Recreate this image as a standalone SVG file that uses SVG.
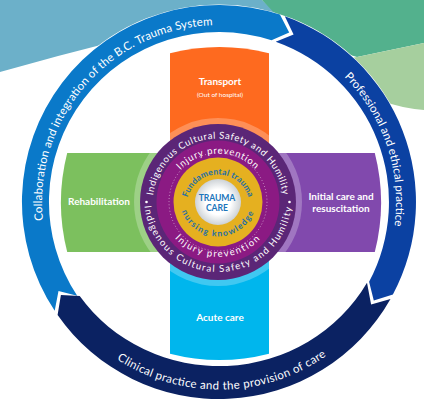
<svg xmlns="http://www.w3.org/2000/svg" width="424" height="401" viewBox="0 0 424 401">
<defs>
<style>
.rt{font-family:Lato,"Noto Sans",sans-serif;font-size:11.5px;fill:#fff;}
.arm{font-family:Lato,"Noto Sans",sans-serif;font-weight:bold;font-size:10px;fill:#fff;text-anchor:middle;}
.ind{font-family:Lato,"Noto Sans",sans-serif;font-size:9.5px;fill:#fff;}
.inj{font-family:Lato,"Noto Sans",sans-serif;font-size:9.5px;fill:#fff;}
.fun{font-family:Lato,"Noto Sans",sans-serif;font-size:8.5px;font-weight:bold;fill:#1f6fa6;}
.tc{font-family:Lato,"Noto Sans",sans-serif;font-weight:bold;font-size:8.6px;fill:#1b75bb;text-anchor:middle;}
</style>
<radialGradient id="wg" cx="0.5" cy="0.5" r="0.5">
<stop offset="0.55" stop-color="#ffffff"/>
<stop offset="1" stop-color="#cdd2d6"/>
</radialGradient>
<path id="pCol" d="M43,220.5 A177,177 0 0 1 212.8,25.1"/>
<path id="pPro" d="M344.2,76.8 A177,177 0 0 1 394.3,226.6"/>
<path id="pCli" d="M116.9,359.3 A187.5,187.5 0 0 0 326.6,355.6"/>
<path id="pIndT" d="M152.5,204 A65.5,65.5 0 0 1 283.5,204"/>
<path id="pIndB" d="M144,198 A74,74 0 0 0 292,198"/>
<path id="pInjT" d="M165.5,206 A52.5,52.5 0 0 1 270.5,206"/>
<path id="pInjB" d="M159,198 A59,59 0 0 0 277,198"/>
<path id="pFunT" d="M186.5,206 A31.5,31.5 0 0 1 249.5,206"/>
<path id="pFunB" d="M179.5,198 A38.5,38.5 0 0 0 256.5,198"/>
</defs>

<g id="background">
<rect x="0" y="0" width="424" height="401" fill="#ffffff"/>
<path d="M0,0 L262,0 L300,35 L219,110 L120,40 Q60,55 0,72 Z" fill="#6cb0c9"/>
<path d="M262,0 L424,0 L424,43 L357,57 L300,40 Z" fill="#53b18d"/>
<path d="M357,57 L424,43 L424,110 Q400,108 380,100 L340,60 Z" fill="#a6cf9e"/>
<circle cx="219" cy="202" r="171" fill="#ffffff"/>
</g>

<g id="ring">
<circle cx="219" cy="202" r="183.5" fill="none" stroke="#ffffff" stroke-width="28"/>
<path id="seg-collab" d="M54.7,310.7 A197,197 0 0 1 279.9,14.6 L289.2,32.5 L271.5,40.3 A170,170 0 0 0 77.2,295.8 L58.5,291 Z" fill="#0a79c9"/>
<path id="seg-prof" d="M284.8,16.3 A197,197 0 0 1 392.9,294.5 L373.8,300.6 L369.1,281.8 A170,170 0 0 0 275.7,41.8 L293.6,34.4 Z" fill="#0b41a2"/>
<path id="seg-clin" d="M390.5,299 A197,197 0 0 1 57.6,315 L60.9,295.1 L79.7,296.1 A170,164 0 0 0 367,282.8 L371.1,304.6 Z" fill="#0b2262"/>
<text class="rt"><textPath href="#pCol" textLength="290" lengthAdjust="spacing">Collaboration and integration of the B.C. Trauma System</textPath></text>
<text class="rt"><textPath href="#pPro" textLength="163" lengthAdjust="spacing">Professional and ethical practice</textPath></text>
<text class="rt" font-size="12"><textPath href="#pCli" textLength="222" lengthAdjust="spacing">Clinical practice and the provision of care</textPath></text>
</g>

<g id="arm-transport">
<path d="M170,202 L170,53.2 A200,200 0 0 1 269,53.2 L269,202 Z" fill="#fe6a1f"/>
<text class="arm" x="220" y="85">Transport</text>
<text x="220" y="97" font-family="Lato, 'Noto Sans', sans-serif" font-size="6.5" fill="#fff" text-anchor="middle">(Out of hospital)</text>
</g>
<g id="arm-acute">
<path d="M170,202 L170,353.8 A200,200 0 0 0 269,353.8 L269,202 Z" fill="#00b6ed"/>
<text class="arm" x="220" y="321">Acute care</text>
</g>
<g id="arm-rehab">
<path d="M219,153 L67.2,153 A200,200 0 0 0 67.2,252 L219,252 Z" fill="#7cc05e"/>
<text class="arm" x="99" y="205">Rehabilitation</text>
</g>
<g id="arm-initial">
<path d="M219,153 L374.8,153 A200,200 0 0 1 374.8,252 L219,252 Z" fill="#8149ad"/>
<text class="arm" x="341" y="200">Initial care and</text>
<text class="arm" x="341" y="212">resuscitation</text>
</g>

<g id="hub">
<circle cx="218" cy="202" r="84" fill="#ffffff" fill-opacity="0.25"/>
<circle cx="218" cy="202" r="78" fill="#5b2677"/>
<circle cx="146.5" cy="202" r="1.3" fill="#fff"/>
<circle cx="289.5" cy="202" r="1.3" fill="#fff"/>
<text class="ind" letter-spacing="0.6"><textPath href="#pIndT" startOffset="50%" text-anchor="middle">Indigenous Cultural Safety and Humility</textPath></text>
<text class="ind" letter-spacing="1.3"><textPath href="#pIndB" startOffset="50%" text-anchor="middle">Indigenous Cultural Safety and Humility</textPath></text>
<circle cx="218" cy="202" r="61.5" fill="#8b1a83"/>
<circle cx="218" cy="202" r="49" fill="none" stroke="#ffffff" stroke-opacity="0.8" stroke-width="0.8" stroke-dasharray="0.8 2.4"/>
<text class="inj" letter-spacing="0.8"><textPath href="#pInjT" startOffset="50%" text-anchor="middle">Injury prevention</textPath></text>
<text class="inj" letter-spacing="1.5"><textPath href="#pInjB" startOffset="50%" text-anchor="middle">Injury prevention</textPath></text>
<circle cx="218" cy="202" r="44.5" fill="#e5b020"/>
<text class="fun" letter-spacing="0.2"><textPath href="#pFunT" startOffset="50%" text-anchor="middle">Fundamental trauma</textPath></text>
<text class="fun" letter-spacing="1.3"><textPath href="#pFunB" startOffset="50%" text-anchor="middle">nursing knowledge</textPath></text>
<circle cx="218" cy="202" r="23" fill="url(#wg)"/>
<text class="tc" x="217" y="201" letter-spacing="-0.1">TRAUMA</text>
<text class="tc" x="217" y="210.5">CARE</text>
</g>
</svg>
